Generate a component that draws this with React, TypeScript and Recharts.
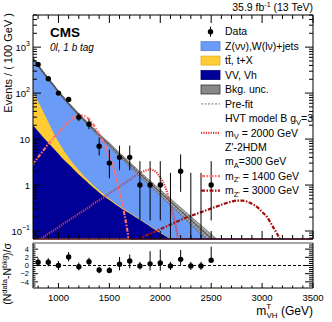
import React from 'react';
import {
  ComposedChart, Area, Line, Scatter, ErrorBar, XAxis, YAxis, ReferenceLine,
} from 'recharts';

const FONT = '"Liberation Sans", Arial, Helvetica, sans-serif';

// mass grid used for the smooth background and signal shapes (GeV)
const massGrid = [
  750, 800, 850, 900, 950, 1000, 1050, 1100, 1150, 1200, 1250, 1300, 1350, 1400, 1450, 1500, 1550,
  1600, 1650, 1700, 1750, 1800, 1850, 1900, 1950, 2000, 2050, 2100, 2150, 2200, 2250, 2300, 2350,
  2400, 2450, 2500, 2550, 2600, 2650, 2700, 2750, 2800, 2850, 2900, 2950, 3000, 3050, 3100, 3150,
  3200, 3250,
];

// post-fit backgrounds, events / 100 GeV, from 750 to 2550 GeV
const zjets = [
  452, 333, 242, 181, 134, 98, 73.7, 54.9, 41.9, 31.8, 24.7, 19.2, 14.8, 11.5, 8.93, 7.09, 5.47,
  4.22, 3.34, 2.57, 2.03, 1.56, 1.23, 0.97, 0.761, 0.599, 0.471, 0.369, 0.29, 0.226, 0.178, 0.139,
  0.108, 0.084, 0.065, 0.05, 0.039,
];
const ttbar = [
  90, 50, 28.8, 15.1, 7.5, 3.9, 2.1, 1.16, 0.63, 0.39, 0.23, 0.16, 0.1, 0.067, 0.055, 0.033, 0.028,
  0.016, 0.013, 0.011, 0.01, 0.006, 0.003, 0.003, 0.003, 0.002, 0.002, 0.0015, 0.001, 0.001, 0.001,
  0.001, 0.001, 0.001, 0.001, 0.001, 0.001,
];
const vvvh = [
  20, 14.8, 11, 8.3, 6.3, 4.8, 3.6, 2.82, 2.19, 1.7, 1.35, 1.07, 0.85, 0.69, 0.56, 0.47, 0.39, 0.33,
  0.28, 0.24, 0.204, 0.174, 0.148, 0.126, 0.107, 0.091, 0.078, 0.066, 0.056, 0.048, 0.04, 0.034,
  0.029, 0.025, 0.021, 0.018, 0.015,
];
const bkgRelUnc = [
  0.05, 0.05, 0.05, 0.05, 0.05, 0.05, 0.055, 0.06, 0.06, 0.065, 0.07, 0.07, 0.075, 0.08, 0.085, 0.09,
  0.095, 0.1, 0.105, 0.11, 0.115, 0.12, 0.13, 0.135, 0.14, 0.15, 0.155, 0.16, 0.17, 0.18, 0.19, 0.2,
  0.21, 0.22, 0.23, 0.24, 0.25,
];
const prefit = [
  600, 425, 300, 216, 156, 113, 83, 61.5, 46.5, 35.2, 27.2, 21, 16.3, 12.6, 9.8, 7.75, 6, 4.66, 3.7,
  2.87, 2.28, 1.77, 1.4, 1.12, 0.885, 0.7, 0.557, 0.442, 0.351, 0.278, 0.221, 0.176, 0.139, 0.111,
  0.088, 0.07, 0.056,
];

// signal shapes
const zp1400 = [ // from 750 GeV
  2.8, 4, 5.6, 7.8, 10.5, 13.8, 18.6, 24, 29.5, 33, 32, 27, 19.5, 12.6, 7.9, 4.2, 2, 0.72, 0.22, 0.05,
];
const hvt2000 = [ // from 750 GeV
  0.052, 0.062, 0.072, 0.087, 0.102, 0.12, 0.145, 0.17, 0.2, 0.24, 0.28, 0.33, 0.4, 0.47, 0.55, 0.66,
  0.78, 0.91, 1.1, 1.29, 1.55, 1.82, 2.04, 2.19, 2, 1.45, 0.89, 0.38, 0.135, 0.032,
];
const zp3000 = [ // from 1700 GeV
  0.055, 0.062, 0.069, 0.078, 0.087, 0.098, 0.11, 0.123, 0.138, 0.155, 0.174, 0.195, 0.214, 0.234,
  0.257, 0.282, 0.309, 0.339, 0.372, 0.407, 0.437, 0.457, 0.457, 0.437, 0.389, 0.335, 0.26, 0.2,
  0.13, 0.085, 0.05,
];

// data, 100 GeV bins
const obsMass = [800, 900, 1000, 1100, 1200, 1300, 1400, 1500, 1600, 1700, 1800, 1900, 2000, 2100, 2200, 2300, 2400, 2500];
const obsCount = [421, 205, 100, 73, 30, 21, 7, 3, 4, 4, 1, 1, 1, 0, 2, 0, 0, 1];
const obsErrLow = [20.5, 14.3, 10, 8.5, 5.5, 4.6, 2.6, 1.6, 1.9, 1.9, 0.83, 0.83, 0.83, 0, 1.29, 0, 0, 0.83];
const obsErrHigh = [21.5, 15.3, 11, 9.6, 6.5, 5.6, 3.8, 2.9, 3.2, 3.2, 2.3, 2.3, 2.3, 1.84, 2.64, 1.84, 1.84, 2.3];

const pull = [0.8, 0.8, 0, 2.1, -0.3, 0.9, -1.1, -1.2, 0.3, 1.1, -0.1, 0.4, 0.6, -0.1, 1.5, -0.1, -0.1, 1.3];
const pullErrLow = [1, 1, 1.1, 1.1, 0.9, 1, 0.8, 0.7, 1.5, 1.8, 0.9, 1.6, 1.9, 1, 1.4, 1, 1, 0.6];
const pullErrHigh = [1, 1, 1.1, 1.2, 1, 1, 0.8, 0.8, 1.8, 1.6, 1, 3.1, 3.3, 1, 2.3, 1, 1, 3.3];

// axes
const xMajor = [1000, 1500, 2000, 2500, 3000, 3500];
const yMajor = [0.1, 1, 10, 100, 1000];
const pullMajor = [-4, -2, 0, 2, 4];
const X_DOMAIN = [750, 3500];
const Y_MIN = 0.067;
const Y_MAX = 5000;

const xTicks: number[] = [];
for (let m = 800; m <= 3500; m += 100) xTicks.push(m);
const yTicks: number[] = [];
[0.01, 0.1, 1, 10, 100, 1000].forEach((d) => {
  for (let k = 1; k <= 9; k++) {
    const v = +(d * k).toPrecision(3);
    if (v >= Y_MIN && v <= Y_MAX) yTicks.push(v);
  }
});
const pullTicks: number[] = [];
for (let v = -5; v <= 5; v += 0.5) pullTicks.push(v);

const C_Z = '#6a9cf7';
const C_TT = '#ffcc33';
const C_VV = '#000096';
const C_1400 = '#ff6f6f';
const C_2000 = '#e2383a';
const C_3000 = '#a50d0d';

const bkgRows = zjets.map((z, i) => {
  const tot = z + ttbar[i] + vvvh[i];
  return {
    m: massGrid[i],
    total: tot,
    ttvv: ttbar[i] + vvvh[i],
    vv: vvvh[i],
    band: [tot * (1 - bkgRelUnc[i]), tot * (1 + bkgRelUnc[i])],
    prefit: prefit[i],
  };
});
const shape = (vals: number[], start: number) => vals.map((v, i) => ({ m: massGrid[start + i], v }));
const zp1400Rows = shape(zp1400, 0);
const hvt2000Rows = shape(hvt2000, 0);
const zp3000Rows = shape(zp3000, massGrid.indexOf(1700));

const obsRows = obsMass.map((m, i) => ({ m, n: obsCount[i], err: [obsErrLow[i], obsErrHigh[i]] }));
const obsFilled = obsRows.filter((r) => r.n > 0);
const obsEmpty = obsRows.filter((r) => r.n === 0);
const pullRows = obsMass.map((m, i) => ({ m, p: pull[i], err: [pullErrLow[i], pullErrHigh[i]] }));

const isMajor = (list: number[], v: number) => list.some((t) => Math.abs(t - v) < 1e-9);

function logLabel(v: number) {
  if (v === 1) return { base: '1', exp: '' };
  if (v === 10) return { base: '10', exp: '' };
  const e = Math.round(Math.log10(v));
  return { base: '10', exp: e < 0 ? `\u2212${-e}` : `${e}` };
}

const LeftLogTick = (p: any) => {
  const v = p.payload.value;
  const major = isMajor(yMajor, v);
  const lab = logLabel(v);
  return (
    <g>
      <line x1={p.x} x2={p.x + (major ? 8 : 4)} y1={p.y} y2={p.y} stroke="#000" />
      {major && (
        <text x={p.x - 3} y={p.y + 3.5} textAnchor="end" fontSize={9.5} fontFamily={FONT} fill="#000">
          {lab.base}
          {lab.exp && <tspan dy={-4.5} fontSize={7}>{lab.exp}</tspan>}
        </text>
      )}
    </g>
  );
};
const RightTick = (majors: number[]) => (p: any) => {
  const major = isMajor(majors, p.payload.value);
  return <line x1={p.x} x2={p.x - (major ? 8 : 4)} y1={p.y} y2={p.y} stroke="#000" />;
};
const TopTick = (p: any) => {
  const major = isMajor(xMajor, p.payload.value);
  return <line x1={p.x} x2={p.x} y1={p.y} y2={p.y + (major ? 8 : 4)} stroke="#000" />;
};
const BottomTick = (labels: boolean) => (p: any) => {
  const v = p.payload.value;
  const major = isMajor(xMajor, v);
  return (
    <g>
      <line x1={p.x} x2={p.x} y1={p.y} y2={p.y - (major ? (labels ? 5 : 8) : (labels ? 2.5 : 4))} stroke="#000" />
      {labels && major && (
        <text x={p.x} y={p.y + 13} textAnchor="middle" fontSize={9.5} fontFamily={FONT} fill="#000">{v}</text>
      )}
    </g>
  );
};
const PullTick = (p: any) => {
  const v = p.payload.value;
  const major = isMajor(pullMajor, v);
  return (
    <g>
      <line x1={p.x} x2={p.x + (major ? 5 : 2.5)} y1={p.y} y2={p.y} stroke="#000" />
      {major && (
        <text x={p.x - 4} y={p.y + 2.7} textAnchor="end" fontSize={7.5} fontFamily={FONT} fill="#000">
          {v < 0 ? `\u2212${-v}` : v}
        </text>
      )}
    </g>
  );
};

const dot = (p: any) => <circle cx={p.cx} cy={p.cy} r={2.7} fill="#000" />;

const LEG_X = 201;
const LEG_W = 19;
const LEG_TX = 225;
const LEG_Y0 = 31.7;
const LEG_DY = 14.45;

function LegendBlock() {
  const row = (i: number) => LEG_Y0 + i * LEG_DY;
  const box = (i: number, fill: string, stroke: string) => (
    <rect x={LEG_X} y={row(i) - 4.5} width={LEG_W} height={9} fill={fill} stroke={stroke} strokeWidth={0.8} />
  );
  const ln = (i: number, color: string, dash: string, w: number) => (
    <line x1={LEG_X} x2={LEG_X + LEG_W} y1={row(i)} y2={row(i)} stroke={color} strokeDasharray={dash} strokeWidth={w} />
  );
  const t = (i: number) => row(i) + 3.7;
  return (
    <g fontFamily={FONT} fontSize={10.5} fill="#000">
      <line x1={LEG_X + LEG_W / 2} x2={LEG_X + LEG_W / 2} y1={row(0) - 5} y2={row(0) + 5} stroke="#000" />
      <circle cx={LEG_X + LEG_W / 2} cy={row(0)} r={2.7} fill="#000" />
      <text x={LEG_TX} y={t(0)}>Data</text>
      {box(1, C_Z, '#5580d0')}
      <text x={LEG_TX} y={t(1)}>Z(νν),W(lν)+jets</text>
      {box(2, C_TT, '#e0b020')}
      <text x={LEG_TX} y={t(2)}>tt̄, t+X</text>
      {box(3, C_VV, '#000070')}
      <text x={LEG_TX} y={t(3)}>VV, Vh</text>
      {box(4, '#888', '#333')}
      <text x={LEG_TX} y={t(4)}>Bkg. unc.</text>
      {ln(5, '#777', '2 1.5', 1)}
      <text x={LEG_TX} y={t(5)}>Pre-fit</text>
      <text x={LEG_TX} y={t(6)}>HVT model B g<tspan dy={2.5} fontSize={7.5}>V</tspan><tspan dy={-2.5}>=3</tspan></text>
      {ln(7, C_2000, '1.2 1.2', 2.2)}
      <text x={LEG_TX} y={t(7)}>m<tspan dy={2.5} fontSize={7.5}>V</tspan><tspan dy={-2.5}> = 2000 GeV</tspan></text>
      <text x={LEG_TX} y={t(8)}>Z'-2HDM</text>
      <text x={LEG_TX} y={t(9)}>m<tspan dy={2.5} fontSize={7.5}>A</tspan><tspan dy={-2.5}>=300 GeV</tspan></text>
      {ln(10, C_1400, '4 1.5 1.5 1.5', 2.2)}
      <text x={LEG_TX} y={t(10)}>m<tspan dy={2.5} fontSize={7.5}>Z'</tspan><tspan dy={-2.5}> = 1400 GeV</tspan></text>
      {ln(11, C_3000, '4 1.5 1.5 1.5', 2.2)}
      <text x={LEG_TX} y={t(11)}>m<tspan dy={2.5} fontSize={7.5}>Z'</tspan><tspan dy={-2.5}> = 3000 GeV</tspan></text>
    </g>
  );
}

export default function App() {
  // signal shapes that sit at zero lie along the bottom of the log axis
  const zeroStart = zp3000Rows[0].m;
  return (
    <div style={{ position: 'absolute', left: 0, top: 0, width: 332, height: 322, background: '#fff' }}>
      <div style={{ position: 'absolute', left: 0, top: 0 }}>
        <ComposedChart width={332} height={241} data={bkgRows} margin={{ top: 0, right: 0, bottom: 0, left: 0 }}>
          <defs>
            <pattern id="uncHatch" patternUnits="userSpaceOnUse" width={3} height={3} patternTransform="rotate(45)">
              <rect width={3} height={3} fill="#a8a8a8" />
              <line x1={0} y1={0} x2={0} y2={3} stroke="#555" strokeWidth={1.2} />
            </pattern>
          </defs>
          <XAxis dataKey="m" type="number" domain={X_DOMAIN} allowDataOverflow ticks={xTicks} interval={0}
            height={2} tickSize={0} tickMargin={0} tickLine={false} tick={BottomTick(false)} axisLine={{ stroke: '#000' }} />
          <XAxis xAxisId="t" orientation="top" dataKey="m" type="number" domain={X_DOMAIN} allowDataOverflow ticks={xTicks}
            interval={0} height={15} tickSize={0} tickMargin={0} tickLine={false} tick={TopTick} axisLine={{ stroke: '#000' }} />
          <YAxis scale="log" type="number" domain={[Y_MIN, Y_MAX]} allowDataOverflow ticks={yTicks} interval={0}
            width={33} tickSize={0} tickMargin={0} tickLine={false} tick={LeftLogTick} axisLine={{ stroke: '#000' }} />
          <YAxis yAxisId="r" orientation="right" scale="log" type="number" domain={[Y_MIN, Y_MAX]} allowDataOverflow
            ticks={yTicks} interval={0} width={19} tickSize={0} tickMargin={0} tickLine={false}
            tick={RightTick(yMajor)} axisLine={{ stroke: '#000' }} />

          <Area dataKey="total" type="monotone" stroke="none" fill={C_Z} fillOpacity={1} baseValue={Y_MIN} isAnimationActive={false} />
          <Area dataKey="ttvv" type="monotone" stroke="none" fill={C_TT} fillOpacity={1} baseValue={Y_MIN} isAnimationActive={false} />
          <Area dataKey="vv" type="monotone" stroke="none" fill={C_VV} fillOpacity={1} baseValue={Y_MIN} isAnimationActive={false} />
          <Area dataKey="band" type="monotone" stroke="#555" strokeWidth={0.6} fill="url(#uncHatch)" fillOpacity={0.9} isAnimationActive={false} />
          <Line dataKey="total" type="monotone" stroke="#333" strokeWidth={1} dot={false} isAnimationActive={false} />
          <Line dataKey="prefit" type="monotone" stroke="#777" strokeWidth={1} strokeDasharray="2 1.5" dot={false} isAnimationActive={false} />

          <Line data={zp1400Rows} dataKey="v" type="monotone" stroke={C_1400} strokeWidth={2.2} strokeDasharray="4 1.5 1.5 1.5" dot={false} isAnimationActive={false} />
          <Line data={hvt2000Rows} dataKey="v" type="monotone" stroke={C_2000} strokeWidth={2.2} strokeDasharray="1.2 1.2" dot={false} isAnimationActive={false} />
          <Line data={zp3000Rows} dataKey="v" type="monotone" stroke={C_3000} strokeWidth={2.2} strokeDasharray="4 1.5 1.5 1.5" dot={false} isAnimationActive={false} />
          <ReferenceLine segment={[{ x: X_DOMAIN[0], y: Y_MIN }, { x: zeroStart, y: Y_MIN }]} stroke={C_1400} strokeWidth={1.6} ifOverflow="visible" />
          <ReferenceLine segment={[{ x: zeroStart, y: Y_MIN }, { x: X_DOMAIN[1], y: Y_MIN }]} stroke="#7d1848" strokeWidth={1.6} ifOverflow="visible" />

          {obsEmpty.map((r) => (
            <ReferenceLine key={r.m} segment={[{ x: r.m, y: Y_MIN }, { x: r.m, y: r.err[1] }]} stroke="#000" ifOverflow="hidden" />
          ))}
          <Scatter data={obsFilled} dataKey="n" shape={dot} isAnimationActive={false}>
            <ErrorBar dataKey="err" direction="y" width={0} stroke="#000" strokeWidth={1} />
          </Scatter>
        </ComposedChart>
      </div>

      <div style={{ position: 'absolute', left: 0, top: 241 }}>
        <ComposedChart width={332} height={81} margin={{ top: 0, right: 0, bottom: 0, left: 0 }}>
          <XAxis dataKey="m" type="number" domain={X_DOMAIN} allowDataOverflow ticks={xTicks} interval={0}
            height={34} tickSize={0} tickMargin={0} tickLine={false} tick={BottomTick(true)} axisLine={{ stroke: '#000' }} />
          <XAxis xAxisId="t" orientation="top" dataKey="m" type="number" domain={X_DOMAIN} allowDataOverflow ticks={xTicks}
            interval={0} height={2} tickSize={0} tickMargin={0} tickLine={false} tick={false} axisLine={{ stroke: '#888', strokeWidth: 1.5 }} />
          <YAxis type="number" domain={[-5.5, 5.5]} allowDataOverflow ticks={pullTicks} interval={0} width={33}
            tickSize={0} tickMargin={0} tickLine={false} tick={PullTick} axisLine={{ stroke: '#000' }} />
          <YAxis yAxisId="r" orientation="right" type="number" domain={[-5.5, 5.5]} allowDataOverflow ticks={pullTicks}
            interval={0} width={19} tickSize={0} tickMargin={0} tickLine={false} tick={RightTick(pullMajor)} axisLine={{ stroke: '#000' }} />
          <ReferenceLine y={0} stroke="#000" strokeDasharray="3 2" strokeWidth={1} />
          <Scatter data={pullRows} dataKey="p" shape={dot} isAnimationActive={false}>
            <ErrorBar dataKey="err" direction="y" width={0} stroke="#000" strokeWidth={1} />
          </Scatter>
        </ComposedChart>
      </div>

      <svg width={332} height={322} style={{ position: 'absolute', left: 0, top: 0, pointerEvents: 'none' }}>
        <text x={313} y={11} textAnchor="end" fontFamily={FONT} fontSize={10.5}>
          35.9 fb<tspan dy={-4} fontSize={7}>-1</tspan><tspan dy={4}> (13 TeV)</tspan>
        </text>
        <text x={50} y={37} fontFamily={FONT} fontSize={13.5} fontWeight="bold">CMS</text>
        <text x={50} y={51} fontFamily={FONT} fontSize={10} fontStyle="italic">0l, 1 b tag</text>
        <text transform="translate(12,13) rotate(-90)" textAnchor="end" fontFamily={FONT} fontSize={11}>
          Events / ( 100 GeV )
        </text>
        <text transform="translate(11,243) rotate(-90)" textAnchor="end" fontFamily={FONT} fontSize={10.5}>
          (N<tspan dy={-4} fontSize={7.5}>data</tspan><tspan dy={4}>-N</tspan><tspan dy={-4} fontSize={7.5}>bkg</tspan><tspan dy={4}>)/σ</tspan>
        </text>
        <text x={313} y={315} textAnchor="end" fontFamily={FONT} fontSize={12}>
          m<tspan dy={-6} fontSize={8}>T</tspan><tspan dx={-4.5} dy={9} fontSize={8}>VH</tspan><tspan dy={-3}> (GeV)</tspan>
        </text>
        <LegendBlock />
      </svg>
    </div>
  );
}
